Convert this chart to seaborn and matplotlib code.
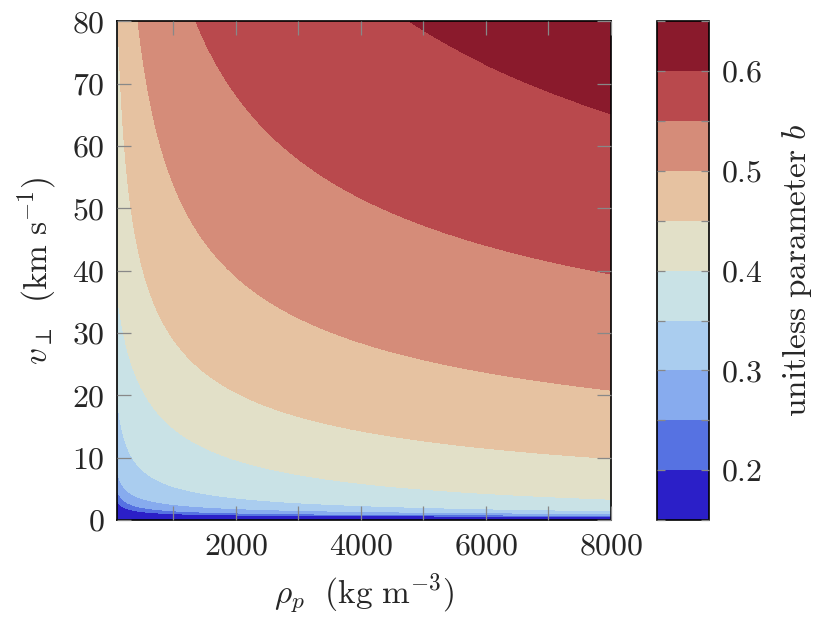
import numpy as np
import matplotlib
matplotlib.use("Agg")
import matplotlib.pyplot as plt
from matplotlib.ticker import FixedLocator, NullFormatter, FuncFormatter
import seaborn as sns

# b levels and band colours (lowest band first)
levels = [0.15, 0.2, 0.25, 0.3, 0.35, 0.4, 0.45, 0.5, 0.55, 0.6, 0.65]
band_colors = ["#2b1fc8", "#5672e2", "#87abee", "#aacdef", "#c9e2e6",
               "#e2e0c8", "#e6c2a1", "#d58c79", "#b9494d", "#8a1a2c"]

# level boundaries: density (kg m^-3) vs velocity (km/s)
b020_rho = [100, 120, 341, 1080, 3190, 8000]
b020_v = [3.4, 2.6, 1.6, 1.0, 0.7, 0.6]
b025_rho = [100, 130, 341, 1080, 3190, 8000]
b025_v = [5.5, 3.7, 2.35, 1.5, 1.0, 0.75]
b030_rho = [100, 183, 552, 1343, 2660, 5300, 8000]
b030_v = [8.1, 5.4, 3.2, 2.2, 1.7, 1.25, 1.0]
b035_rho = [100, 180, 330, 700, 1000, 1400, 2600, 4000, 5800, 8000]
b035_v = [20, 15, 10, 6.5, 5.2, 4.4, 3.2, 2.4, 1.8, 1.45]
b040_rho = [100, 210, 330, 526, 763, 1000, 1400, 2000, 2800, 4000, 5000, 6000, 7000, 8000]
b040_v = [37, 30, 25, 20, 16.3, 14.5, 12.2, 10, 8.0, 6.0, 5.0, 4.3, 3.7, 3.2]
b045_rho = [132, 158, 211, 290, 500, 868, 1395, 2421, 3300, 3947, 5000, 6000, 7000, 8000]
b045_v = [80, 70, 60, 50, 40, 30, 25, 20, 16.2, 14.4, 12.8, 11.4, 10.5, 9.6]
b050_rho = [463, 579, 737, 1132, 1579, 1895, 2474, 3316, 3700, 5058, 6593, 8000]
b050_v = [80, 70, 60, 50, 43.7, 40, 35.7, 31.4, 30, 25.7, 22.8, 20.4]
b055_rho = [1440, 1820, 2500, 3950, 4540, 5700, 6800, 8000]
b055_v = [80, 70, 60, 52.2, 50, 46, 42.5, 38.3]
b060_rho = [4800, 6700, 8000]
b060_v = [80, 70, 65.3]

boundaries = [
    (0.2, b020_rho, b020_v), (0.25, b025_rho, b025_v), (0.3, b030_rho, b030_v),
    (0.35, b035_rho, b035_v), (0.4, b040_rho, b040_v), (0.45, b045_rho, b045_v),
    (0.5, b050_rho, b050_v), (0.55, b055_rho, b055_v), (0.6, b060_rho, b060_v),
]

# build a b field whose contours follow the read boundaries
rho = np.linspace(100, 8000, 500)
v = np.linspace(0, 80, 500)
bound_levels = []
log_bounds = []
for lev, r, vv in boundaries:
    deg = 2 if len(r) >= 5 else 1
    coef = np.polyfit(np.log(r), np.log(vv), deg)
    bound_levels.append(lev)
    log_bounds.append(np.polyval(coef, np.log(rho)))
log_bounds = np.maximum.accumulate(np.array(log_bounds), axis=0)
log_bounds = log_bounds + np.arange(len(bound_levels))[:, None] * 1e-6
logv = np.log(np.maximum(v, 1e-3))
B = np.empty((len(v), len(rho)))
for j in range(len(rho)):
    B[:, j] = np.interp(logv, log_bounds[:, j], bound_levels, left=0.175, right=0.625)
R, V = np.meshgrid(rho, v)

sns.set_theme(style="white", rc={"axes.axisbelow": False})
plt.rcParams["font.family"] = "serif"
plt.rcParams["font.serif"] = ["cmr10", "DejaVu Serif"]
plt.rcParams["mathtext.fontset"] = "cm"
plt.rcParams["axes.unicode_minus"] = False

fig = plt.figure(figsize=(8.3, 6.27), dpi=100)
ax = fig.add_axes([0.141, 0.1705, 0.595, 0.7955])
cax = fig.add_axes([0.7915, 0.1705, 0.0625, 0.7955])

cs = ax.contourf(R, V, B, levels=levels, colors=band_colors)
ax.set_axisbelow(False)
ax.set_xlim(100, 8000)
ax.set_ylim(0, 80)
ax.set_xticks([2000, 4000, 6000, 8000])
ax.xaxis.set_minor_locator(FixedLocator([1000, 3000, 5000, 7000]))
ax.set_yticks(range(0, 81, 10))
ax.xaxis.set_major_formatter(FuncFormatter(lambda x, p: r"$\mathrm{%d}$" % x))
ax.yaxis.set_major_formatter(FuncFormatter(lambda y, p: r"$\mathrm{%d}$" % y))
ax.tick_params(which="both", direction="in", length=10, width=0.9, color="#888888",
               bottom=True, left=True, top=True, right=True, labelsize=23, pad=9)
for s in ax.spines.values():
    s.set_color("black")
    s.set_linewidth(1.2)
ax.set_xlabel(r"$\rho_p\ \ \mathrm{(kg\ m^{-3})}$", fontsize=24, labelpad=8)
ax.set_ylabel(r"$v_\perp\ \ \mathrm{(km\ s^{-1})}$", fontsize=24, labelpad=10)

cbar = fig.colorbar(cs, cax=cax)
cax.set_axisbelow(False)
cbar.set_ticks([0.2, 0.3, 0.4, 0.5, 0.6])
cax.yaxis.set_major_formatter(FuncFormatter(lambda y, p: r"$\mathrm{%.1f}$" % y))
cax.yaxis.set_minor_locator(FixedLocator(levels))
cax.yaxis.set_minor_formatter(NullFormatter())
cax.tick_params(which="both", direction="in", length=6, width=0.9, color="#888888",
                left=True, right=True, labelsize=23, pad=9)
cbar.outline.set_edgecolor("black")
cbar.outline.set_linewidth(1.2)
cbar.set_label(r"$\mathrm{unitless\ parameter}\ b$", fontsize=24, labelpad=12)

fig.savefig("out.png", dpi=100)
